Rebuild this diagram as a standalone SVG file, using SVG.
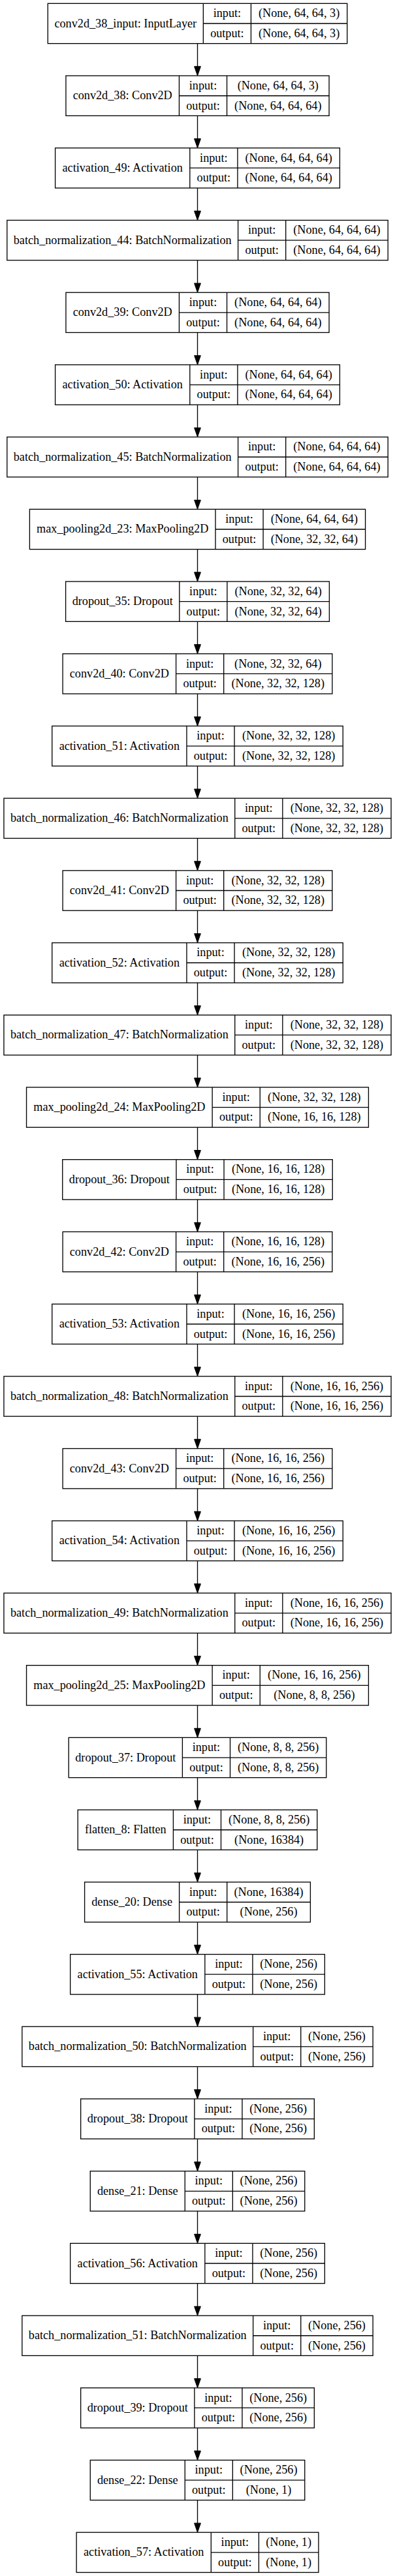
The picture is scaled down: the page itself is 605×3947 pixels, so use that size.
<svg xmlns="http://www.w3.org/2000/svg" width="605" height="3947" viewBox="0 0 605 3947">
<style>
.b{fill:#fff;stroke:#000;stroke-width:1.33}
.d{fill:none;stroke:#000;stroke-width:1.33}
text{font-family:"Liberation Serif","Times New Roman",serif;font-size:18.2px;fill:#000;text-anchor:middle}
.e{stroke:#000;stroke-width:1.33;fill:none}
</style>
<defs>
<marker id="ah" markerUnits="userSpaceOnUse" markerWidth="19" markerHeight="14" viewBox="-2 -7 19 14" refX="13.3" refY="0" orient="auto">
<path d="M0,-4.67 L13.3,0 L0,4.67 Z" fill="#000" stroke="#000" stroke-width="1.33" stroke-linejoin="round"/>
</marker>
</defs>
<rect x="0" y="0" width="605" height="3947" fill="#fff"/>
<g id="edges">
<line class="e" x1="302.5" y1="66.66" x2="302.5" y2="115.34" marker-end="url(#ah)"/>
<line class="e" x1="302.5" y1="177.37" x2="302.5" y2="226.05" marker-end="url(#ah)"/>
<line class="e" x1="302.5" y1="288.08" x2="302.5" y2="336.76" marker-end="url(#ah)"/>
<line class="e" x1="302.5" y1="398.79" x2="302.5" y2="447.47" marker-end="url(#ah)"/>
<line class="e" x1="302.5" y1="509.50" x2="302.5" y2="558.18" marker-end="url(#ah)"/>
<line class="e" x1="302.5" y1="620.21" x2="302.5" y2="668.89" marker-end="url(#ah)"/>
<line class="e" x1="302.5" y1="730.92" x2="302.5" y2="779.60" marker-end="url(#ah)"/>
<line class="e" x1="302.5" y1="841.63" x2="302.5" y2="890.31" marker-end="url(#ah)"/>
<line class="e" x1="302.5" y1="952.34" x2="302.5" y2="1001.02" marker-end="url(#ah)"/>
<line class="e" x1="302.5" y1="1063.05" x2="302.5" y2="1111.73" marker-end="url(#ah)"/>
<line class="e" x1="302.5" y1="1173.76" x2="302.5" y2="1222.44" marker-end="url(#ah)"/>
<line class="e" x1="302.5" y1="1284.47" x2="302.5" y2="1333.15" marker-end="url(#ah)"/>
<line class="e" x1="302.5" y1="1395.18" x2="302.5" y2="1443.86" marker-end="url(#ah)"/>
<line class="e" x1="302.5" y1="1505.89" x2="302.5" y2="1554.57" marker-end="url(#ah)"/>
<line class="e" x1="302.5" y1="1616.60" x2="302.5" y2="1665.28" marker-end="url(#ah)"/>
<line class="e" x1="302.5" y1="1727.31" x2="302.5" y2="1775.99" marker-end="url(#ah)"/>
<line class="e" x1="302.5" y1="1838.02" x2="302.5" y2="1886.70" marker-end="url(#ah)"/>
<line class="e" x1="302.5" y1="1948.73" x2="302.5" y2="1997.41" marker-end="url(#ah)"/>
<line class="e" x1="302.5" y1="2059.44" x2="302.5" y2="2108.12" marker-end="url(#ah)"/>
<line class="e" x1="302.5" y1="2170.15" x2="302.5" y2="2218.83" marker-end="url(#ah)"/>
<line class="e" x1="302.5" y1="2280.86" x2="302.5" y2="2329.54" marker-end="url(#ah)"/>
<line class="e" x1="302.5" y1="2391.57" x2="302.5" y2="2440.25" marker-end="url(#ah)"/>
<line class="e" x1="302.5" y1="2502.28" x2="302.5" y2="2550.96" marker-end="url(#ah)"/>
<line class="e" x1="302.5" y1="2612.99" x2="302.5" y2="2661.67" marker-end="url(#ah)"/>
<line class="e" x1="302.5" y1="2723.70" x2="302.5" y2="2772.38" marker-end="url(#ah)"/>
<line class="e" x1="302.5" y1="2834.41" x2="302.5" y2="2883.09" marker-end="url(#ah)"/>
<line class="e" x1="302.5" y1="2945.12" x2="302.5" y2="2993.80" marker-end="url(#ah)"/>
<line class="e" x1="302.5" y1="3055.83" x2="302.5" y2="3104.51" marker-end="url(#ah)"/>
<line class="e" x1="302.5" y1="3166.54" x2="302.5" y2="3215.22" marker-end="url(#ah)"/>
<line class="e" x1="302.5" y1="3277.25" x2="302.5" y2="3325.93" marker-end="url(#ah)"/>
<line class="e" x1="302.5" y1="3387.96" x2="302.5" y2="3436.64" marker-end="url(#ah)"/>
<line class="e" x1="302.5" y1="3498.67" x2="302.5" y2="3547.35" marker-end="url(#ah)"/>
<line class="e" x1="302.5" y1="3609.38" x2="302.5" y2="3658.06" marker-end="url(#ah)"/>
<line class="e" x1="302.5" y1="3720.09" x2="302.5" y2="3768.77" marker-end="url(#ah)"/>
<line class="e" x1="302.5" y1="3830.80" x2="302.5" y2="3879.48" marker-end="url(#ah)"/>
</g>

<g id="n1" transform="translate(0,5.33)"><rect class="b" x="73.25" y="0" width="458.5" height="61.33"/><path class="d" d="M311.35 0V61.33M384.45 0V61.33M311.35 30.67H531.75"/><text x="192.3" y="36.2">conv2d_38_input: InputLayer</text><text x="347.9" y="20.8">input:</text><text x="347.9" y="51.5">output:</text><text x="458.1" y="20.8">(None, 64, 64, 3)</text><text x="458.1" y="51.5">(None, 64, 64, 3)</text></g>

<g id="n2" transform="translate(0,116.04)"><rect class="b" x="100.95" y="0" width="403.1" height="61.33"/><path class="d" d="M274.45 0V61.33M347.55 0V61.33M274.45 30.67H504.05"/><text x="187.7" y="36.2">conv2d_38: Conv2D</text><text x="311" y="20.8">input:</text><text x="311" y="51.5">output:</text><text x="425.8" y="20.8">(None, 64, 64, 3)</text><text x="425.8" y="51.5">(None, 64, 64, 64)</text></g>

<g id="n3" transform="translate(0,226.75)"><rect class="b" x="84.6" y="0" width="435.8" height="61.33"/><path class="d" d="M290.8 0V61.33M363.9 0V61.33M290.8 30.67H520.4"/><text x="187.7" y="36.2">activation_49: Activation</text><text x="327.35" y="20.8">input:</text><text x="327.35" y="51.5">output:</text><text x="442.15" y="20.8">(None, 64, 64, 64)</text><text x="442.15" y="51.5">(None, 64, 64, 64)</text></g>

<g id="n4" transform="translate(0,337.46)"><rect class="b" x="10.8" y="0" width="583.4" height="61.33"/><path class="d" d="M364.6 0V61.33M437.7 0V61.33M364.6 30.67H594.2"/><text x="187.7" y="36.2">batch_normalization_44: BatchNormalization</text><text x="401.15" y="20.8">input:</text><text x="401.15" y="51.5">output:</text><text x="515.95" y="20.8">(None, 64, 64, 64)</text><text x="515.95" y="51.5">(None, 64, 64, 64)</text></g>

<g id="n5" transform="translate(0,448.17)"><rect class="b" x="100.95" y="0" width="403.1" height="61.33"/><path class="d" d="M274.45 0V61.33M347.55 0V61.33M274.45 30.67H504.05"/><text x="187.7" y="36.2">conv2d_39: Conv2D</text><text x="311" y="20.8">input:</text><text x="311" y="51.5">output:</text><text x="425.8" y="20.8">(None, 64, 64, 64)</text><text x="425.8" y="51.5">(None, 64, 64, 64)</text></g>

<g id="n6" transform="translate(0,558.88)"><rect class="b" x="84.6" y="0" width="435.8" height="61.33"/><path class="d" d="M290.8 0V61.33M363.9 0V61.33M290.8 30.67H520.4"/><text x="187.7" y="36.2">activation_50: Activation</text><text x="327.35" y="20.8">input:</text><text x="327.35" y="51.5">output:</text><text x="442.15" y="20.8">(None, 64, 64, 64)</text><text x="442.15" y="51.5">(None, 64, 64, 64)</text></g>

<g id="n7" transform="translate(0,669.59)"><rect class="b" x="10.8" y="0" width="583.4" height="61.33"/><path class="d" d="M364.6 0V61.33M437.7 0V61.33M364.6 30.67H594.2"/><text x="187.7" y="36.2">batch_normalization_45: BatchNormalization</text><text x="401.15" y="20.8">input:</text><text x="401.15" y="51.5">output:</text><text x="515.95" y="20.8">(None, 64, 64, 64)</text><text x="515.95" y="51.5">(None, 64, 64, 64)</text></g>

<g id="n8" transform="translate(0,780.30)"><rect class="b" x="45.4" y="0" width="514.2" height="61.33"/><path class="d" d="M330 0V61.33M403.1 0V61.33M330 30.67H559.6"/><text x="187.7" y="36.2">max_pooling2d_23: MaxPooling2D</text><text x="366.55" y="20.8">input:</text><text x="366.55" y="51.5">output:</text><text x="481.35" y="20.8">(None, 64, 64, 64)</text><text x="481.35" y="51.5">(None, 32, 32, 64)</text></g>

<g id="n9" transform="translate(0,891.01)"><rect class="b" x="100.6" y="0" width="403.8" height="61.33"/><path class="d" d="M274.8 0V61.33M347.9 0V61.33M274.8 30.67H504.4"/><text x="187.7" y="36.2">dropout_35: Dropout</text><text x="311.35" y="20.8">input:</text><text x="311.35" y="51.5">output:</text><text x="426.15" y="20.8">(None, 32, 32, 64)</text><text x="426.15" y="51.5">(None, 32, 32, 64)</text></g>

<g id="n10" transform="translate(0,1001.72)"><rect class="b" x="96.1" y="0" width="412.8" height="61.33"/><path class="d" d="M269.6 0V61.33M342.7 0V61.33M269.6 30.67H508.9"/><text x="182.85" y="36.2">conv2d_40: Conv2D</text><text x="306.15" y="20.8">input:</text><text x="306.15" y="51.5">output:</text><text x="425.8" y="20.8">(None, 32, 32, 64)</text><text x="425.8" y="51.5">(None, 32, 32, 128)</text></g>

<g id="n11" transform="translate(0,1112.43)"><rect class="b" x="79.75" y="0" width="445.5" height="61.33"/><path class="d" d="M285.95 0V61.33M359.05 0V61.33M285.95 30.67H525.25"/><text x="182.85" y="36.2">activation_51: Activation</text><text x="322.5" y="20.8">input:</text><text x="322.5" y="51.5">output:</text><text x="442.15" y="20.8">(None, 32, 32, 128)</text><text x="442.15" y="51.5">(None, 32, 32, 128)</text></g>

<g id="n12" transform="translate(0,1223.14)"><rect class="b" x="5.95" y="0" width="593.1" height="61.33"/><path class="d" d="M359.75 0V61.33M432.85 0V61.33M359.75 30.67H599.05"/><text x="182.85" y="36.2">batch_normalization_46: BatchNormalization</text><text x="396.3" y="20.8">input:</text><text x="396.3" y="51.5">output:</text><text x="515.95" y="20.8">(None, 32, 32, 128)</text><text x="515.95" y="51.5">(None, 32, 32, 128)</text></g>

<g id="n13" transform="translate(0,1333.85)"><rect class="b" x="96.1" y="0" width="412.8" height="61.33"/><path class="d" d="M269.6 0V61.33M342.7 0V61.33M269.6 30.67H508.9"/><text x="182.85" y="36.2">conv2d_41: Conv2D</text><text x="306.15" y="20.8">input:</text><text x="306.15" y="51.5">output:</text><text x="425.8" y="20.8">(None, 32, 32, 128)</text><text x="425.8" y="51.5">(None, 32, 32, 128)</text></g>

<g id="n14" transform="translate(0,1444.56)"><rect class="b" x="79.75" y="0" width="445.5" height="61.33"/><path class="d" d="M285.95 0V61.33M359.05 0V61.33M285.95 30.67H525.25"/><text x="182.85" y="36.2">activation_52: Activation</text><text x="322.5" y="20.8">input:</text><text x="322.5" y="51.5">output:</text><text x="442.15" y="20.8">(None, 32, 32, 128)</text><text x="442.15" y="51.5">(None, 32, 32, 128)</text></g>

<g id="n15" transform="translate(0,1555.27)"><rect class="b" x="5.95" y="0" width="593.1" height="61.33"/><path class="d" d="M359.75 0V61.33M432.85 0V61.33M359.75 30.67H599.05"/><text x="182.85" y="36.2">batch_normalization_47: BatchNormalization</text><text x="396.3" y="20.8">input:</text><text x="396.3" y="51.5">output:</text><text x="515.95" y="20.8">(None, 32, 32, 128)</text><text x="515.95" y="51.5">(None, 32, 32, 128)</text></g>

<g id="n16" transform="translate(0,1665.98)"><rect class="b" x="40.55" y="0" width="523.9" height="61.33"/><path class="d" d="M325.15 0V61.33M398.25 0V61.33M325.15 30.67H564.45"/><text x="182.85" y="36.2">max_pooling2d_24: MaxPooling2D</text><text x="361.7" y="20.8">input:</text><text x="361.7" y="51.5">output:</text><text x="481.35" y="20.8">(None, 32, 32, 128)</text><text x="481.35" y="51.5">(None, 16, 16, 128)</text></g>

<g id="n17" transform="translate(0,1776.69)"><rect class="b" x="95.75" y="0" width="413.5" height="61.33"/><path class="d" d="M269.95 0V61.33M343.05 0V61.33M269.95 30.67H509.25"/><text x="182.85" y="36.2">dropout_36: Dropout</text><text x="306.5" y="20.8">input:</text><text x="306.5" y="51.5">output:</text><text x="426.15" y="20.8">(None, 16, 16, 128)</text><text x="426.15" y="51.5">(None, 16, 16, 128)</text></g>

<g id="n18" transform="translate(0,1887.40)"><rect class="b" x="96.1" y="0" width="412.8" height="61.33"/><path class="d" d="M269.6 0V61.33M342.7 0V61.33M269.6 30.67H508.9"/><text x="182.85" y="36.2">conv2d_42: Conv2D</text><text x="306.15" y="20.8">input:</text><text x="306.15" y="51.5">output:</text><text x="425.8" y="20.8">(None, 16, 16, 128)</text><text x="425.8" y="51.5">(None, 16, 16, 256)</text></g>

<g id="n19" transform="translate(0,1998.11)"><rect class="b" x="79.75" y="0" width="445.5" height="61.33"/><path class="d" d="M285.95 0V61.33M359.05 0V61.33M285.95 30.67H525.25"/><text x="182.85" y="36.2">activation_53: Activation</text><text x="322.5" y="20.8">input:</text><text x="322.5" y="51.5">output:</text><text x="442.15" y="20.8">(None, 16, 16, 256)</text><text x="442.15" y="51.5">(None, 16, 16, 256)</text></g>

<g id="n20" transform="translate(0,2108.82)"><rect class="b" x="5.95" y="0" width="593.1" height="61.33"/><path class="d" d="M359.75 0V61.33M432.85 0V61.33M359.75 30.67H599.05"/><text x="182.85" y="36.2">batch_normalization_48: BatchNormalization</text><text x="396.3" y="20.8">input:</text><text x="396.3" y="51.5">output:</text><text x="515.95" y="20.8">(None, 16, 16, 256)</text><text x="515.95" y="51.5">(None, 16, 16, 256)</text></g>

<g id="n21" transform="translate(0,2219.53)"><rect class="b" x="96.1" y="0" width="412.8" height="61.33"/><path class="d" d="M269.6 0V61.33M342.7 0V61.33M269.6 30.67H508.9"/><text x="182.85" y="36.2">conv2d_43: Conv2D</text><text x="306.15" y="20.8">input:</text><text x="306.15" y="51.5">output:</text><text x="425.8" y="20.8">(None, 16, 16, 256)</text><text x="425.8" y="51.5">(None, 16, 16, 256)</text></g>

<g id="n22" transform="translate(0,2330.24)"><rect class="b" x="79.75" y="0" width="445.5" height="61.33"/><path class="d" d="M285.95 0V61.33M359.05 0V61.33M285.95 30.67H525.25"/><text x="182.85" y="36.2">activation_54: Activation</text><text x="322.5" y="20.8">input:</text><text x="322.5" y="51.5">output:</text><text x="442.15" y="20.8">(None, 16, 16, 256)</text><text x="442.15" y="51.5">(None, 16, 16, 256)</text></g>

<g id="n23" transform="translate(0,2440.95)"><rect class="b" x="5.95" y="0" width="593.1" height="61.33"/><path class="d" d="M359.75 0V61.33M432.85 0V61.33M359.75 30.67H599.05"/><text x="182.85" y="36.2">batch_normalization_49: BatchNormalization</text><text x="396.3" y="20.8">input:</text><text x="396.3" y="51.5">output:</text><text x="515.95" y="20.8">(None, 16, 16, 256)</text><text x="515.95" y="51.5">(None, 16, 16, 256)</text></g>

<g id="n24" transform="translate(0,2551.66)"><rect class="b" x="40.55" y="0" width="523.9" height="61.33"/><path class="d" d="M325.15 0V61.33M398.25 0V61.33M325.15 30.67H564.45"/><text x="182.85" y="36.2">max_pooling2d_25: MaxPooling2D</text><text x="361.7" y="20.8">input:</text><text x="361.7" y="51.5">output:</text><text x="481.35" y="20.8">(None, 16, 16, 256)</text><text x="481.35" y="51.5">(None, 8, 8, 256)</text></g>

<g id="n25" transform="translate(0,2662.37)"><rect class="b" x="105.2" y="0" width="394.6" height="61.33"/><path class="d" d="M279.4 0V61.33M352.5 0V61.33M279.4 30.67H499.8"/><text x="192.3" y="36.2">dropout_37: Dropout</text><text x="315.95" y="20.8">input:</text><text x="315.95" y="51.5">output:</text><text x="426.15" y="20.8">(None, 8, 8, 256)</text><text x="426.15" y="51.5">(None, 8, 8, 256)</text></g>

<g id="n26" transform="translate(0,2773.08)"><rect class="b" x="119.2" y="0" width="366.6" height="61.33"/><path class="d" d="M265.4 0V61.33M338.5 0V61.33M265.4 30.67H485.8"/><text x="192.3" y="36.2">flatten_8: Flatten</text><text x="301.95" y="20.8">input:</text><text x="301.95" y="51.5">output:</text><text x="412.15" y="20.8">(None, 8, 8, 256)</text><text x="412.15" y="51.5">(None, 16384)</text></g>

<g id="n27" transform="translate(0,2883.79)"><rect class="b" x="129.6" y="0" width="345.8" height="61.33"/><path class="d" d="M274.6 0V61.33M347.7 0V61.33M274.6 30.67H475.4"/><text x="202.1" y="36.2">dense_20: Dense</text><text x="311.15" y="20.8">input:</text><text x="311.15" y="51.5">output:</text><text x="411.55" y="20.8">(None, 16384)</text><text x="411.55" y="51.5">(None, 256)</text></g>

<g id="n28" transform="translate(0,2994.50)"><rect class="b" x="107.65" y="0" width="389.7" height="61.33"/><path class="d" d="M313.85 0V61.33M386.95 0V61.33M313.85 30.67H497.35"/><text x="210.75" y="36.2">activation_55: Activation</text><text x="350.4" y="20.8">input:</text><text x="350.4" y="51.5">output:</text><text x="442.15" y="20.8">(None, 256)</text><text x="442.15" y="51.5">(None, 256)</text></g>

<g id="n29" transform="translate(0,3105.21)"><rect class="b" x="33.85" y="0" width="537.3" height="61.33"/><path class="d" d="M387.65 0V61.33M460.75 0V61.33M387.65 30.67H571.15"/><text x="210.75" y="36.2">batch_normalization_50: BatchNormalization</text><text x="424.2" y="20.8">input:</text><text x="424.2" y="51.5">output:</text><text x="515.95" y="20.8">(None, 256)</text><text x="515.95" y="51.5">(None, 256)</text></g>

<g id="n30" transform="translate(0,3215.92)"><rect class="b" x="123.65" y="0" width="357.7" height="61.33"/><path class="d" d="M297.85 0V61.33M370.95 0V61.33M297.85 30.67H481.35"/><text x="210.75" y="36.2">dropout_38: Dropout</text><text x="334.4" y="20.8">input:</text><text x="334.4" y="51.5">output:</text><text x="426.15" y="20.8">(None, 256)</text><text x="426.15" y="51.5">(None, 256)</text></g>

<g id="n31" transform="translate(0,3326.63)"><rect class="b" x="138.25" y="0" width="328.5" height="61.33"/><path class="d" d="M283.25 0V61.33M356.35 0V61.33M283.25 30.67H466.75"/><text x="210.75" y="36.2">dense_21: Dense</text><text x="319.8" y="20.8">input:</text><text x="319.8" y="51.5">output:</text><text x="411.55" y="20.8">(None, 256)</text><text x="411.55" y="51.5">(None, 256)</text></g>

<g id="n32" transform="translate(0,3437.34)"><rect class="b" x="107.65" y="0" width="389.7" height="61.33"/><path class="d" d="M313.85 0V61.33M386.95 0V61.33M313.85 30.67H497.35"/><text x="210.75" y="36.2">activation_56: Activation</text><text x="350.4" y="20.8">input:</text><text x="350.4" y="51.5">output:</text><text x="442.15" y="20.8">(None, 256)</text><text x="442.15" y="51.5">(None, 256)</text></g>

<g id="n33" transform="translate(0,3548.05)"><rect class="b" x="33.85" y="0" width="537.3" height="61.33"/><path class="d" d="M387.65 0V61.33M460.75 0V61.33M387.65 30.67H571.15"/><text x="210.75" y="36.2">batch_normalization_51: BatchNormalization</text><text x="424.2" y="20.8">input:</text><text x="424.2" y="51.5">output:</text><text x="515.95" y="20.8">(None, 256)</text><text x="515.95" y="51.5">(None, 256)</text></g>

<g id="n34" transform="translate(0,3658.76)"><rect class="b" x="123.65" y="0" width="357.7" height="61.33"/><path class="d" d="M297.85 0V61.33M370.95 0V61.33M297.85 30.67H481.35"/><text x="210.75" y="36.2">dropout_39: Dropout</text><text x="334.4" y="20.8">input:</text><text x="334.4" y="51.5">output:</text><text x="426.15" y="20.8">(None, 256)</text><text x="426.15" y="51.5">(None, 256)</text></g>

<g id="n35" transform="translate(0,3769.47)"><rect class="b" x="138.25" y="0" width="328.5" height="61.33"/><path class="d" d="M283.25 0V61.33M356.35 0V61.33M283.25 30.67H466.75"/><text x="210.75" y="36.2">dense_22: Dense</text><text x="319.8" y="20.8">input:</text><text x="319.8" y="51.5">output:</text><text x="411.55" y="20.8">(None, 256)</text><text x="411.55" y="51.5">(None, 1)</text></g>

<g id="n36" transform="translate(0,3880.18)"><rect class="b" x="117.1" y="0" width="370.8" height="61.33"/><path class="d" d="M323.3 0V61.33M396.4 0V61.33M323.3 30.67H487.9"/><text x="220.2" y="36.2">activation_57: Activation</text><text x="359.85" y="20.8">input:</text><text x="359.85" y="51.5">output:</text><text x="442.15" y="20.8">(None, 1)</text><text x="442.15" y="51.5">(None, 1)</text></g>
</svg>
